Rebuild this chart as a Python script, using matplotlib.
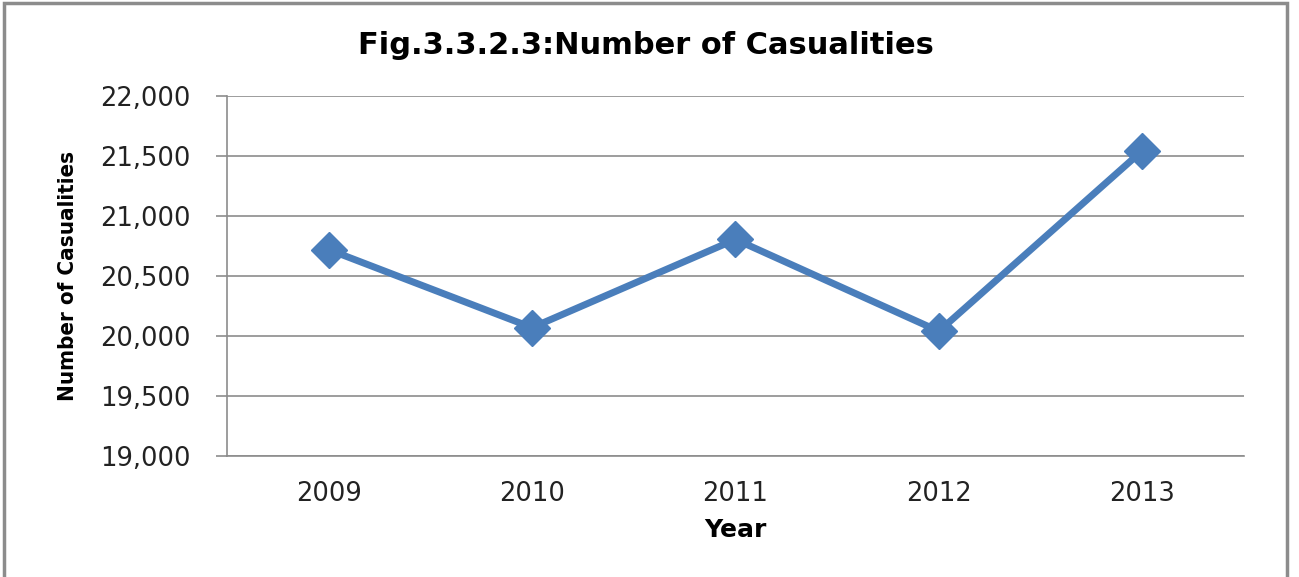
import matplotlib.pyplot as plt
from matplotlib.patches import Rectangle
from matplotlib.ticker import FuncFormatter

years = ['2009', '2010', '2011', '2012', '2013']
casualties = [20720, 20070, 20805, 20040, 21545]

fig = plt.figure(figsize=(12.99, 5.77), dpi=100)
ax = fig.add_axes([0.1747, 0.2097, 0.7830, 0.6239])

x = range(len(years))
ax.plot(x, casualties, color='#4A7EBB', lw=5, marker='D', ms=18,
        solid_joinstyle='miter', zorder=3)

ax.set_xlim(-0.5, len(years) - 0.5)
ax.set_ylim(19000, 22000)
ax.set_yticks(range(19000, 22001, 500))
ax.yaxis.set_major_formatter(FuncFormatter(lambda v, p: f'{int(v):,}'))
ax.set_xticks(list(x))
ax.set_xticklabels(years)

ax.grid(axis='y', color='#8c8c8c', lw=1.2)
ax.set_axisbelow(True)
for s in ['top', 'right']:
    ax.spines[s].set_visible(False)
for s in ['left', 'bottom']:
    ax.spines[s].set_color('#8c8c8c')
    ax.spines[s].set_linewidth(1.2)
ax.tick_params(axis='y', length=8, width=1.2, color='#8c8c8c',
               labelsize=18.5, labelcolor='#222222', pad=18)
ax.tick_params(axis='x', length=0, labelsize=18.5, labelcolor='#222222', pad=18)

ax.set_xlabel('Year', fontsize=18, fontweight='bold', labelpad=8)
ax.set_ylabel('Number of Casualities', fontsize=16, fontweight='bold',
              fontstretch='condensed', labelpad=16)
fig.text(0.497, 0.922, 'Fig.3.3.2.3:Number of Casualities', ha='center', va='center',
         fontsize=22, fontweight='bold')

# grey frame around the whole chart
fig.patches.append(Rectangle((0.003, -0.01), 0.988, 1.004, transform=fig.transFigure,
                             fill=False, ec='#8c8c8c', lw=2.5))

fig.savefig('out.png', dpi=100)
